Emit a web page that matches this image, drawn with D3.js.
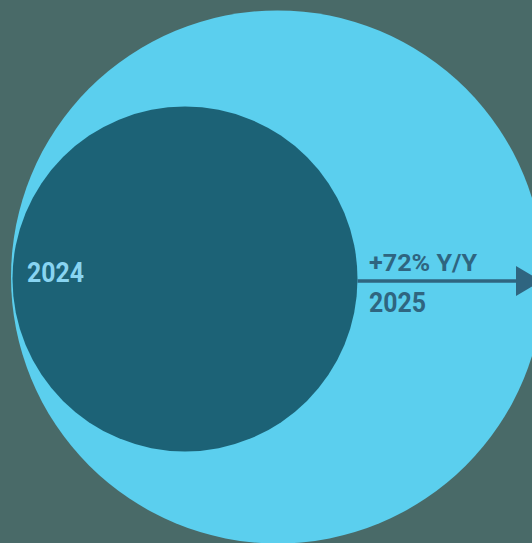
<!DOCTYPE html>
<html>
<head>
<meta charset="utf-8">
<script src="https://cdn.jsdelivr.net/npm/d3@7"></script>
<style>
html,body{margin:0;padding:0;background:#496a68;overflow:hidden;}
svg{display:block;}
</style>
</head>
<body>
<script>
const years = ["2024", "2025"];
const values = [1.0, 1.72];
const growthLabel = "+72% Y/Y";

const W = 532, H = 543;
const svg = d3.select("body").append("svg").attr("width", W).attr("height", H);
svg.append("rect").attr("width", W).attr("height", H).attr("fill", "#496a68");

// radius scale
const r = d3.scaleLinear().domain([values[0], values[1]]).range([172.5, 266.5]);
const leftX = 11, cy = 277;
const colors = ["#1c6276", "#5bcfee"];

const order = [1, 0];
svg.selectAll("circle.bub").data(order).enter().append("circle")
  .attr("class", "bub")
  .attr("cx", i => leftX + (i === 0 ? 1.5 : 0) + r(values[i]))
  .attr("cy", i => cy + (i === 0 ? 2 : 0))
  .attr("r", i => r(values[i]))
  .attr("fill", i => colors[i]);

const smallR = r(values[0]);
const smallRight = leftX + 1.5 + 2 * smallR;
const arrowY = 281;

// arrow
svg.append("line")
  .attr("x1", smallRight).attr("x2", 518)
  .attr("y1", arrowY).attr("y2", arrowY)
  .attr("stroke", "#2f6580").attr("stroke-width", 3.5);
svg.append("path")
  .attr("d", `M516,${arrowY - 15} L541,${arrowY} L516,${arrowY + 15} Z`)
  .attr("fill", "#2f6580");

const font = "Roboto, 'DejaVu Sans', sans-serif";
svg.append("text")
  .attr("x", 27).attr("y", 282)
  .attr("font-family", font).attr("font-weight", 700).attr("font-size", 27)
  .attr("textLength", 57).attr("lengthAdjust", "spacingAndGlyphs")
  .attr("fill", "#88d4f1").text(years[0]);

svg.append("text")
  .attr("x", 369).attr("y", 271)
  .attr("font-family", font).attr("font-weight", 700).attr("font-size", 23.5)
  .attr("textLength", 108).attr("lengthAdjust", "spacingAndGlyphs")
  .attr("fill", "#2f6580").text(growthLabel);

svg.append("text")
  .attr("x", 369).attr("y", 312)
  .attr("font-family", font).attr("font-weight", 700).attr("font-size", 27)
  .attr("textLength", 57).attr("lengthAdjust", "spacingAndGlyphs")
  .attr("fill", "#2f6580").text(years[1]);
</script>
</body>
</html>
